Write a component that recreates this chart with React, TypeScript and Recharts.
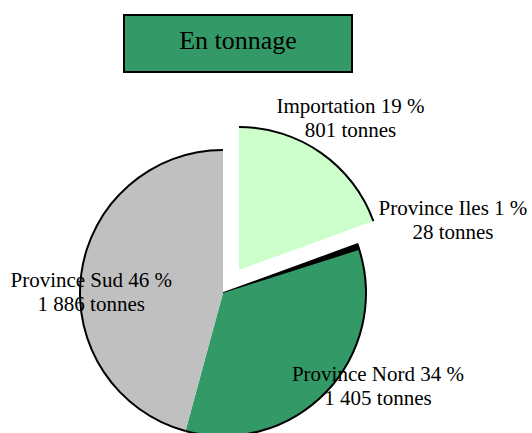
import React from "react";
import { PieChart, Pie, Cell } from "recharts";

// ---- data ----
const categories = ["Importation", "Province Iles", "Province Nord", "Province Sud"];
const tonnes = [801, 28, 1405, 1886];
const titleText = "En tonnage";
const unitText = "tonnes";

// ---- styles / layout ----
const sliceColors = ["#CCFFCC", "#000000", "#339966", "#C0C0C0"];
const explodedIndex = 0;
const W = 532;
const H = 433;
const CX = 223;
const CY = 293;
const R = 143;
const EXPLODE_DX = 16;
const EXPLODE_DY = -23;
const FONT = "'Liberation Serif', 'Times New Roman', serif";
// label offsets from the outer midpoint of each slice (line-1 baseline, centered)
const labelOffsets: [number, number][] = [
  [45.5, -63],
  [94.6, -32],
  [51.8, -11],
  [10, 12.6],
];

const data = categories.map((name, i) => ({ name, value: tonnes[i] }));

const fmt = (v: number) => String(v).replace(/\B(?=(\d{3})+(?!\d))/g, " ");

const renderLabel = (props: any) => {
  const { cx, cy, midAngle, index, percent, name, value } = props;
  const rad = (midAngle * Math.PI) / 180;
  const px = cx + R * Math.cos(rad);
  const py = cy - R * Math.sin(rad);
  const [dx, dy] = labelOffsets[index];
  const x = px + dx;
  const y = py + dy;
  return (
    <text
      key={`lbl-${index}`}
      x={x}
      y={y}
      textAnchor="middle"
      fontFamily={FONT}
      fontSize={21}
      fill="#000"
    >
      <tspan x={x} y={y}>{`${name} ${Math.round(percent * 100)} %`}</tspan>
      <tspan x={x} y={y + 24}>{`${fmt(value)} ${unitText}`}</tspan>
    </text>
  );
};

export default function App() {
  return (
    <div style={{ position: "absolute", left: 0, top: 0, width: W, height: H, background: "#fff" }}>
      <PieChart width={W} height={H} margin={{ top: 0, right: 0, bottom: 0, left: 0 }}>
        {/* main pie (exploded slice hidden) */}
        <Pie
          data={data}
          dataKey="value"
          nameKey="name"
          cx={CX}
          cy={CY}
          outerRadius={R}
          startAngle={90}
          endAngle={-270}
          stroke="none"
          isAnimationActive={false}
          label={renderLabel}
          labelLine={false}
        >
          {data.map((d, i) => (
            <Cell
              key={d.name}
              fill={i === explodedIndex ? "transparent" : sliceColors[i]}
              stroke={sliceColors[i] === "#000000" ? "#000" : "none"}
              strokeWidth={sliceColors[i] === "#000000" ? 1.5 : 0}
            />
          ))}
        </Pie>
        {/* outer arc outline for main pie */}
        <Pie
          data={data}
          dataKey="value"
          nameKey="name"
          cx={CX}
          cy={CY}
          innerRadius={R - 1}
          outerRadius={R + 1}
          startAngle={90}
          endAngle={-270}
          stroke="none"
          isAnimationActive={false}
        >
          {data.map((d, i) => (
            <Cell key={d.name} fill={i === explodedIndex ? "transparent" : "#000"} />
          ))}
        </Pie>
        {/* exploded slice */}
        <Pie
          data={data}
          dataKey="value"
          nameKey="name"
          cx={CX + EXPLODE_DX}
          cy={CY + EXPLODE_DY}
          outerRadius={R}
          startAngle={90}
          endAngle={-270}
          stroke="none"
          isAnimationActive={false}
        >
          {data.map((d, i) => (
            <Cell key={d.name} fill={i === explodedIndex ? sliceColors[i] : "transparent"} />
          ))}
        </Pie>
        <Pie
          data={data}
          dataKey="value"
          nameKey="name"
          cx={CX + EXPLODE_DX}
          cy={CY + EXPLODE_DY}
          innerRadius={R - 1}
          outerRadius={R + 1}
          startAngle={90}
          endAngle={-270}
          stroke="none"
          isAnimationActive={false}
        >
          {data.map((d, i) => (
            <Cell key={d.name} fill={i === explodedIndex ? "#000" : "transparent"} />
          ))}
        </Pie>
      </PieChart>
      <svg
        width={W}
        height={H}
        style={{ position: "absolute", left: 0, top: 0, pointerEvents: "none" }}
      >
        <rect x={124} y={15} width={228} height={57} fill="#339966" stroke="#000" strokeWidth={2} />
        <text x={238} y={49} textAnchor="middle" fontFamily={FONT} fontSize={26} fill="#000">
          {titleText}
        </text>
      </svg>
    </div>
  );
}
